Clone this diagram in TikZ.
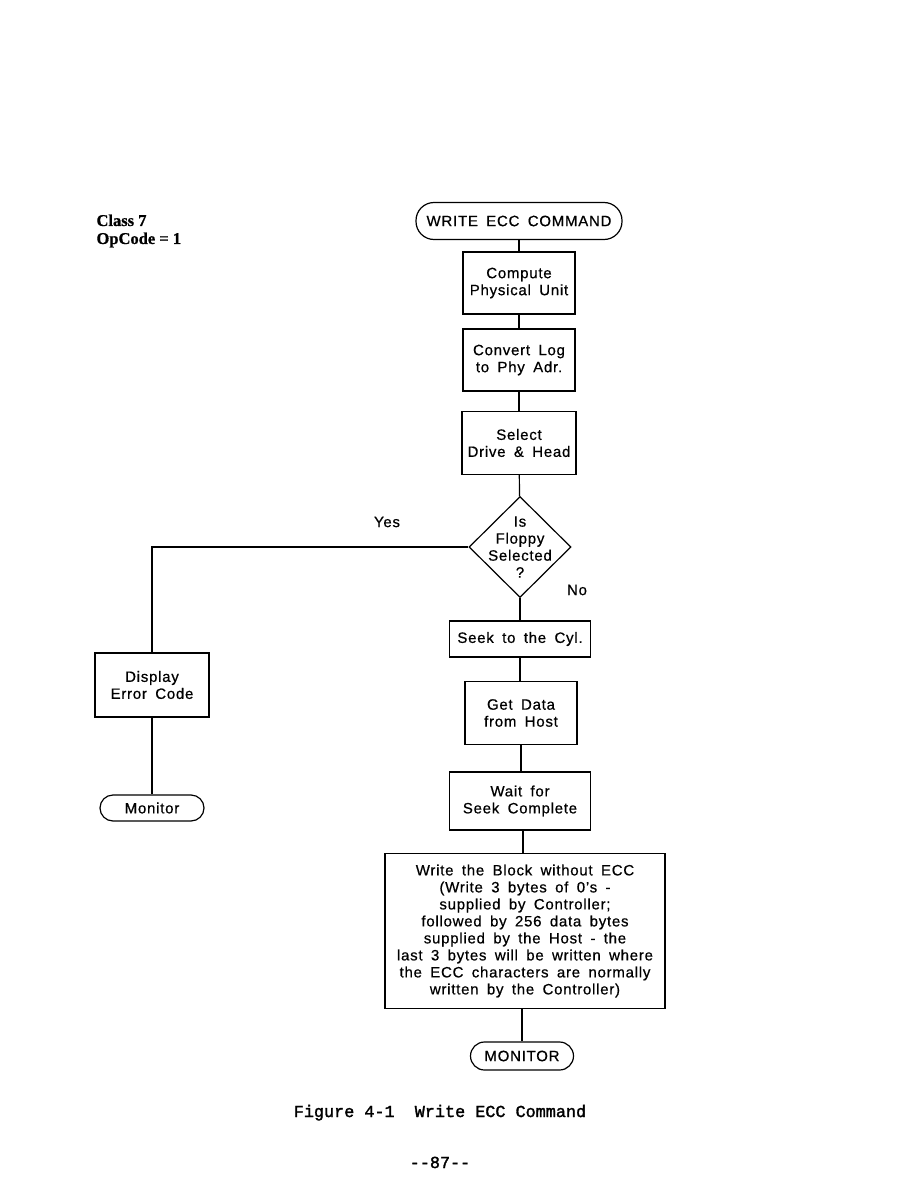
\documentclass[tikz,border=0pt]{standalone}
\usepackage{fontspec}
\setmainfont{Liberation Sans}[LetterSpace=5,WordSpace=1.7,FakeBold=0.6]
\newfontfamily\capfont{Liberation Mono}[FakeBold=1.8]
\newfontfamily\serifb{Liberation Serif}[FakeBold=0.8]
\usetikzlibrary{shapes.geometric}
\begin{document}
\begin{tikzpicture}[x=1pt,y=-1pt,
  txt/.style={font=\fontsize{15}{17}\selectfont},
  box/.style={draw,line width=1.2pt,align=center,inner sep=0pt,txt},
  pill/.style={draw,line width=1.2pt,align=center,inner sep=0pt,txt,rounded corners=13pt},
  conn/.style={line width=1.2pt},
  caption/.style={font=\capfont\fontsize{16.8}{18}\selectfont}
]
\useasboundingbox (0,0) rectangle (918,1188);

\node[anchor=west,align=left,font=\serifb\bfseries\fontsize{16.5}{18}\selectfont] (cls) at (93,231) {Class 7\\OpCode = 1};

\node[pill,rounded corners=18pt,minimum width=206pt,minimum height=37pt] (start) at (519,221) {WRITE ECC COMMAND};
\node[box,minimum width=112pt,minimum height=62pt] (comp) at (519,283) {Compute\\Physical Unit};
\node[box,minimum width=112pt,minimum height=62pt] (conv) at (519,360) {Convert Log\\to Phy Adr.};
\node[box,minimum width=114pt,minimum height=63pt] (sel) at (519,443) {Select\\Drive \& Head};
\node[draw,line width=1.2pt,shape=diamond,minimum width=102pt,minimum height=101pt,inner sep=0pt] (dia) at (520,547) {};
\node[txt,align=center] (diatxt) at (dia.center) {Is\\Floppy\\Selected\\?};
\node[txt] (yes) at (387,522) {Yes};
\node[txt] (no) at (577,590) {No};

\node[box,minimum width=141pt,minimum height=36pt] (seek) at (520,639) {Seek to the Cyl.};
\node[box,minimum width=112pt,minimum height=63pt] (get) at (521,713) {Get Data\\from Host};
\node[box,minimum width=141pt,minimum height=58pt] (wait) at (520,801) {Wait for\\Seek Complete};
\node[box,minimum width=280pt,minimum height=155pt] (write) at (525,931) {Write the Block without ECC\\(Write 3 bytes of 0's -\\supplied by Controller;\\followed by 256 data bytes\\supplied by the Host - the\\last 3 bytes will be written where\\the ECC characters are normally\\written by the Controller)};
\node[pill,minimum width=103pt,minimum height=28pt,rounded corners=14pt] (mon2) at (522,1056) {MONITOR};

\node[box,minimum width=114pt,minimum height=64pt] (disp) at (152,685) {Display\\Error Code};
\node[pill,minimum width=104pt,minimum height=26pt] (mon1) at (152,808) {Monitor};

\draw[conn] (start) -- (comp);
\draw[conn] (comp) -- (conv);
\draw[conn] (conv) -- (sel);
\draw[conn] (sel) -- (dia);
\draw[conn] (dia.south) -- (dia.south |- seek.north);
\draw[conn] (seek.south) -- (seek.south |- get.north);
\draw[conn] (get.south) -- (get.south |- wait.north);
\draw[conn] ([xshift=3pt]wait.south) -- ([xshift=3pt]wait.south |- write.north);
\draw[conn] (write.south -| mon2) -- (mon2.north);
\draw[conn] (dia.west) -| (disp.north);
\draw[conn] (disp) -- (mon1);

\node[caption,anchor=base] (cap) at (440,1117) {Figure 4-1\ \ Write ECC Command};
\node[caption,anchor=base] (page) at (440,1168) {--87--};
\end{tikzpicture}
\end{document}
